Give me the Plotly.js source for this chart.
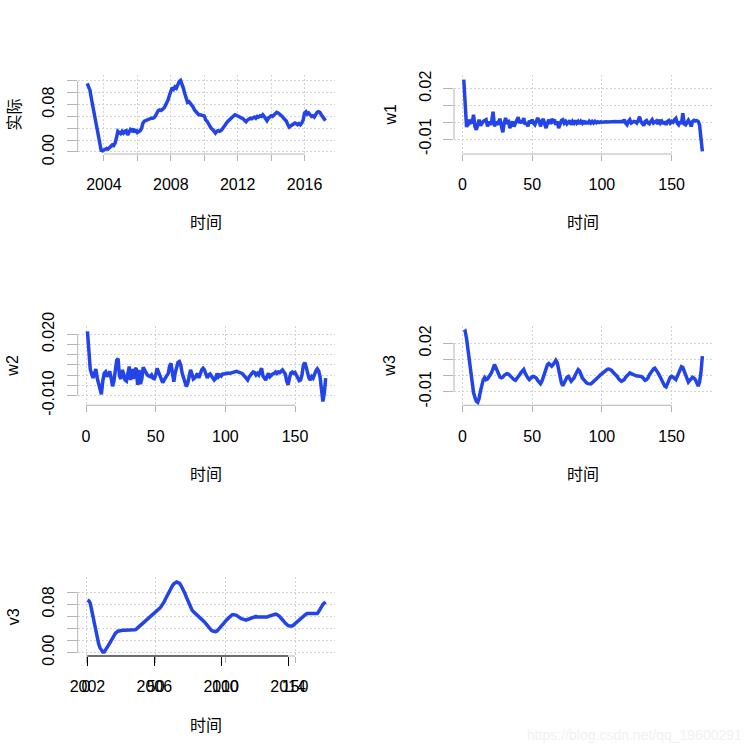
<!DOCTYPE html>
<html>
<head>
<meta charset="utf-8">
<script src="https://cdn.plot.ly/plotly-3.0.1.min.js"></script>
<style>html,body{margin:0;padding:0;background:#fff;}#chart{width:753px;height:753px;}</style>
</head>
<body>
<div id="chart"></div>
<script>
// ---- data ----
const startYear = 2003;   // monthly series (ts start 2003, frequency 12)
const frequency = 12;
const actual = [
  0.116,0.110,0.104,0.090,0.077,0.065,0.053,0.040,0.025,0.013,0.003,0.002,
  0.003,0.005,0.006,0.005,0.008,0.011,0.012,0.011,0.015,0.024,0.035,0.033,
  0.031,0.035,0.032,0.035,0.036,0.029,0.035,0.038,0.036,0.039,0.033,0.038,
  0.033,0.035,0.036,0.040,0.049,0.052,0.053,0.054,0.056,0.056,0.057,0.057,
  0.058,0.061,0.066,0.070,0.071,0.070,0.072,0.074,0.078,0.082,0.088,0.096,
  0.102,0.109,0.106,0.110,0.108,0.115,0.119,0.121,0.116,0.108,0.099,0.089,
  0.084,0.085,0.082,0.080,0.076,0.071,0.068,0.066,0.063,0.063,0.062,0.062,
  0.061,0.054,0.052,0.048,0.043,0.040,0.038,0.035,0.032,0.035,0.036,0.035,
  0.036,0.039,0.043,0.046,0.049,0.052,0.054,0.057,0.059,0.061,0.063,0.062,
  0.061,0.060,0.059,0.057,0.056,0.053,0.051,0.054,0.056,0.057,0.056,0.058,
  0.059,0.057,0.060,0.059,0.061,0.060,0.063,0.060,0.056,0.053,0.057,0.059,
  0.061,0.060,0.063,0.064,0.067,0.066,0.064,0.063,0.060,0.057,0.054,0.052,
  0.046,0.042,0.044,0.046,0.047,0.049,0.048,0.046,0.048,0.046,0.049,0.054,
  0.066,0.068,0.064,0.066,0.063,0.060,0.061,0.059,0.063,0.067,0.068,0.067,
  0.063,0.060,0.057,0.053
];
const w1 = [
  0.0253,0.0080,-0.0030,0.0015,-0.0005,0.0005,-0.0008,0.0045,-0.0025,-0.0045,-0.0015,0.0015,
  -0.0020,-0.0005,0.0005,0.0010,0.0015,-0.0025,0.0005,-0.0015,0.0005,0.0063,-0.0025,0.0005,
  -0.0015,0.0005,0.0020,-0.0025,-0.0060,-0.0005,0.0025,-0.0010,0.0015,-0.0035,-0.0010,0.0005,
  -0.0025,-0.0005,0.0020,0.0030,-0.0005,0.0010,-0.0005,0.0025,-0.0015,0.0000,-0.0025,0.0010,
  -0.0005,0.0015,-0.0005,-0.0015,0.0005,0.0025,0.0010,-0.0025,0.0005,0.0020,-0.0010,-0.0035,
  -0.0005,0.0015,-0.0010,0.0020,0.0005,0.0015,-0.0015,0.0005,-0.0035,-0.0005,0.0010,0.0015,
  -0.0005,0.0005,-0.0010,0.0000,0.0010,-0.0015,0.0005,-0.0005,0.0010,-0.0005,0.0005,-0.0010,
  0.0005,-0.0005,0.0010,-0.0010,0.0005,-0.0010,0.0005,-0.0005,0.0005,-0.0005,0.0005,-0.0003,
  0.0003,-0.0002,0.0002,0.0000,0.0002,0.0001,0.0003,0.0002,0.0003,0.0004,0.0003,0.0004,
  0.0003,0.0004,0.0003,0.0005,0.0003,0.0004,0.0003,0.0015,-0.0005,-0.0015,0.0005,0.0015,
  -0.0005,0.0000,0.0005,0.0002,-0.0005,0.0010,0.0033,0.0005,-0.0010,-0.0020,0.0005,0.0010,
  -0.0005,-0.0010,0.0005,0.0015,-0.0005,0.0003,0.0008,-0.0010,0.0015,-0.0005,0.0005,-0.0010,
  0.0005,-0.0015,0.0005,0.0010,-0.0005,0.0005,0.0000,0.0015,0.0023,-0.0005,-0.0015,0.0005,
  -0.0010,0.0053,-0.0010,-0.0015,0.0005,0.0012,-0.0003,-0.0025,0.0005,0.0012,0.0008,0.0010,
  0.0005,-0.0015,-0.0095,-0.0173
];
const w2 = [
  0.0215,0.0120,0.0030,0.0005,-0.0015,0.0008,0.0030,-0.0015,-0.0045,-0.0075,-0.0095,-0.0030,
  0.0008,0.0015,-0.0008,0.0005,0.0018,-0.0015,-0.0055,-0.0030,0.0020,0.0072,0.0080,-0.0005,
  -0.0020,0.0025,0.0005,-0.0025,-0.0030,0.0000,0.0042,-0.0025,0.0030,-0.0020,0.0025,0.0035,
  -0.0048,0.0025,-0.0045,-0.0020,0.0038,0.0025,0.0008,0.0000,-0.0005,-0.0008,0.0000,-0.0015,
  -0.0018,0.0000,0.0033,0.0016,0.0000,-0.0025,-0.0038,-0.0025,-0.0015,0.0000,0.0008,0.0045,
  0.0057,0.0010,-0.0033,0.0010,0.0040,0.0062,0.0066,0.0048,0.0008,-0.0015,-0.0045,-0.0057,
  -0.0040,0.0000,0.0025,0.0005,-0.0020,-0.0015,-0.0005,0.0008,-0.0015,0.0008,0.0025,0.0033,
  0.0025,0.0005,-0.0015,0.0000,0.0005,-0.0005,-0.0015,-0.0025,-0.0018,0.0008,-0.0008,0.0000,
  -0.0005,0.0005,0.0005,0.0008,0.0008,0.0010,0.0008,0.0010,0.0015,0.0018,0.0020,0.0018,
  0.0015,0.0012,0.0010,0.0008,0.0000,-0.0008,-0.0020,-0.0025,-0.0010,0.0003,0.0008,0.0015,
  0.0012,0.0000,0.0008,0.0000,0.0015,0.0033,-0.0005,-0.0020,-0.0025,-0.0005,0.0008,-0.0008,
  0.0000,0.0005,0.0008,0.0015,0.0008,0.0015,0.0012,0.0020,0.0025,0.0015,0.0005,-0.0030,
  -0.0049,-0.0015,0.0010,0.0015,0.0008,0.0012,0.0000,-0.0020,-0.0028,-0.0025,0.0000,0.0049,
  0.0061,0.0040,0.0000,-0.0015,-0.0025,-0.0008,-0.0015,0.0010,0.0020,0.0030,0.0020,-0.0010,
  -0.0070,-0.0130,-0.0090,-0.0015
];
const w3 = [
  0.0269,0.0275,0.0230,0.0160,0.0080,0.0006,-0.0050,-0.0105,-0.0135,-0.0159,-0.0166,-0.0140,
  -0.0095,-0.0055,-0.0025,-0.0012,-0.0025,-0.0020,-0.0010,0.0005,0.0020,0.0045,0.0068,0.0050,
  0.0025,0.0003,-0.0010,-0.0014,-0.0010,0.0002,0.0010,0.0012,0.0010,0.0000,-0.0010,-0.0015,
  -0.0025,-0.0029,-0.0020,-0.0008,0.0005,0.0018,0.0032,0.0037,0.0015,-0.0005,-0.0015,-0.0025,
  -0.0015,-0.0008,-0.0005,-0.0010,-0.0015,-0.0030,-0.0042,-0.0050,-0.0035,-0.0005,0.0025,0.0045,
  0.0068,0.0075,0.0065,0.0058,0.0068,0.0080,0.0095,0.0080,0.0035,-0.0015,-0.0045,-0.0062,
  -0.0045,-0.0025,-0.0010,-0.0005,-0.0020,-0.0035,-0.0025,-0.0015,0.0005,0.0025,0.0037,0.0028,
  0.0005,-0.0015,-0.0025,-0.0038,-0.0045,-0.0050,-0.0052,-0.0052,-0.0045,-0.0038,-0.0030,-0.0025,
  -0.0018,-0.0005,0.0005,0.0012,0.0020,0.0030,0.0037,0.0040,0.0041,0.0038,0.0032,0.0020,
  0.0012,0.0000,-0.0005,-0.0020,-0.0030,-0.0035,-0.0030,-0.0025,-0.0010,0.0000,0.0012,0.0017,
  0.0012,0.0008,0.0000,-0.0003,-0.0003,-0.0003,-0.0003,-0.0005,-0.0010,-0.0018,-0.0029,-0.0025,
  -0.0015,0.0005,0.0020,0.0035,0.0041,0.0045,0.0035,0.0020,0.0005,-0.0015,-0.0035,-0.0055,
  -0.0065,-0.0070,-0.0055,-0.0030,-0.0010,-0.0005,-0.0010,-0.0020,-0.0025,-0.0005,0.0020,0.0040,
  0.0055,0.0050,0.0025,0.0000,-0.0020,-0.0040,-0.0030,-0.0015,-0.0010,-0.0015,-0.0025,-0.0045,
  -0.0065,-0.0040,0.0020,0.0120
];
const v3 = [
  0.087,0.086,0.082,0.071,0.057,0.045,0.034,0.025,0.015,0.008,0.003,0.001,
  0.001,0.004,0.008,0.012,0.016,0.021,0.025,0.028,0.032,0.034,0.036,0.036,
  0.037,0.037,0.037,0.037,0.037,0.037,0.037,0.037,0.037,0.038,0.038,0.039,
  0.041,0.043,0.045,0.047,0.049,0.051,0.054,0.056,0.058,0.060,0.062,0.064,
  0.066,0.067,0.069,0.071,0.074,0.077,0.080,0.084,0.089,0.094,0.099,0.104,
  0.108,0.111,0.114,0.116,0.117,0.116,0.115,0.112,0.108,0.104,0.098,0.092,
  0.086,0.081,0.075,0.071,0.068,0.066,0.063,0.061,0.060,0.058,0.056,0.054,
  0.051,0.048,0.045,0.042,0.039,0.037,0.036,0.035,0.035,0.036,0.038,0.041,
  0.044,0.046,0.049,0.052,0.055,0.057,0.059,0.061,0.063,0.063,0.063,0.062,
  0.060,0.058,0.057,0.056,0.055,0.054,0.054,0.055,0.056,0.057,0.058,0.059,
  0.060,0.060,0.059,0.059,0.059,0.058,0.058,0.058,0.058,0.059,0.060,0.061,
  0.062,0.063,0.064,0.064,0.063,0.062,0.060,0.057,0.055,0.052,0.049,0.046,
  0.045,0.044,0.044,0.044,0.046,0.048,0.050,0.052,0.055,0.057,0.059,0.061,
  0.063,0.064,0.065,0.065,0.065,0.065,0.065,0.065,0.065,0.065,0.068,0.072,
  0.077,0.080,0.082,0.084
];

// tick labels
const yearTicks = [2004, 2006, 2008, 2010, 2012, 2014, 2016];
const yearText  = ['2004', '', '2008', '', '2012', '', '2016'];
const indexTicks = [0, 50, 100, 150];
const indexText  = ['0', '50', '100', '150'];
const v3YearTicks = [1, 49, 97, 145];
const v3YearText  = ['2002', '2006', '2010', '2014'];
const actTicks = [0, 0.02, 0.04, 0.06, 0.08, 0.10, 0.12];
const actText  = ['0.00', '', '', '', '0.08', '', ''];
const w1Ticks = [-0.01, 0, 0.01, 0.02];
const w1Text  = ['-0.01', '', '', '0.02'];
const w2Ticks = [-0.010, -0.005, 0, 0.005, 0.010, 0.015, 0.020];
const w2Text  = ['-0.010', '', '', '', '', '', '0.020'];
const w3Ticks = [-0.01, 0, 0.01, 0.02];
const w3Text  = ['-0.01', '', '', '0.02'];
const v3Ticks = [0, 0.02, 0.04, 0.06, 0.08, 0.10];
const v3Text  = ['0.00', '', '', '', '0.08', ''];

const yLabels = ['实际', 'w1', 'w2', 'w3', 'v3'];
const xLabel = '时间';

// ---- build ----
const timeX = actual.map((_, i) => startYear + i / frequency);
const idxX = w1.map((_, i) => i + 1);

const W = 753, H = 753;
const px = v => v / W;
const py = v => 1 - v / H;

const BLUE = '#2344E6';
const GRAY = '#b4b4b4';
const GRID = '#d3d3d3';
const NUMFONT = {family: 'Liberation Sans, Arial, sans-serif', size: 16, color: '#000'};
const CJKFONT = {family: 'Noto Sans CJK SC, sans-serif', size: 16, color: '#000'};

const colX = [[77.7, 335], [454, 711.7]];
const rowY = [[75, 154], [326, 405.3], [576.5, 656]];

function xDomain(c) { return [px(colX[c][0]), px(colX[c][1])]; }
function yDomain(r) { return [py(rowY[r][1]), py(rowY[r][0])]; }

function xAxis(c, anchor, range, tv, tt) {
  return {
    domain: xDomain(c), anchor: anchor, range: range,
    tickmode: 'array', tickvals: tv, ticktext: tt,
    ticks: 'outside', ticklen: 6, tickwidth: 1, tickcolor: GRAY,
    showline: false, zeroline: false,
    showgrid: true, gridcolor: GRID, griddash: '2px,2px', gridwidth: 1,
    tickfont: NUMFONT, ticklabelstandoff: 10, fixedrange: true
  };
}
function yAxis(r, anchor, range, tv, tt) {
  return {
    domain: yDomain(r), anchor: anchor, range: range,
    tickmode: 'array', tickvals: tv, ticktext: tt, tickangle: -90,
    ticks: 'outside', ticklen: 10, tickwidth: 1, tickcolor: GRAY,
    showline: false, zeroline: false,
    showgrid: true, gridcolor: GRID, griddash: '2px,2px', gridwidth: 1,
    tickfont: NUMFONT, ticklabelstandoff: 6, fixedrange: true
  };
}

const idxRange = [-6.0, 178.7];

const lineStyle = {color: BLUE, width: 3.5};
const traces = [
  {x: timeX, y: actual, xaxis: 'x', yaxis: 'y', type: 'scatter', mode: 'lines', line: lineStyle, hoverinfo: 'skip'},
  {x: idxX, y: w1, xaxis: 'x2', yaxis: 'y2', type: 'scatter', mode: 'lines', line: lineStyle, hoverinfo: 'skip'},
  {x: idxX, y: w2, xaxis: 'x3', yaxis: 'y3', type: 'scatter', mode: 'lines', line: lineStyle, hoverinfo: 'skip'},
  {x: idxX, y: w3, xaxis: 'x4', yaxis: 'y4', type: 'scatter', mode: 'lines', line: lineStyle, hoverinfo: 'skip'},
  {x: idxX, y: v3, xaxis: 'x5', yaxis: 'y5', type: 'scatter', mode: 'lines', line: lineStyle, hoverinfo: 'skip'}
];

const layout = {
  width: W, height: H,
  margin: {l: 0, r: 0, t: 0, b: 0},
  paper_bgcolor: '#fff', plot_bgcolor: '#fff',
  showlegend: false,
  xaxis:  xAxis(0, 'y',  [2002.43, 2017.82], yearTicks, yearText),
  yaxis:  yAxis(0, 'x',  [-0.0034, 0.1301], actTicks, actText),
  xaxis2: xAxis(1, 'y2', idxRange, indexTicks, indexText),
  yaxis2: yAxis(0, 'x2', [-0.0189, 0.0281], w1Ticks, w1Text),
  xaxis3: xAxis(0, 'y3', idxRange, indexTicks, indexText),
  yaxis3: yAxis(1, 'x3', [-0.0149, 0.0241], w2Ticks, w2Text),
  xaxis4: xAxis(1, 'y4', idxRange, indexTicks, indexText),
  yaxis4: yAxis(1, 'x4', [-0.0184, 0.0307], w3Ticks, w3Text),
  xaxis5: xAxis(0, 'y5', idxRange, indexTicks, indexText),
  yaxis5: yAxis(2, 'x5', [-0.0055, 0.1262], v3Ticks, v3Text),
  xaxis6: Object.assign(xAxis(0, 'y5', idxRange, v3YearTicks, v3YearText), {
    overlaying: 'x5', showgrid: false, tickcolor: '#000', ticklen: 9, ticklabelstandoff: 7
  }),
  shapes: [],
  annotations: []
};

// axis lines spanning first..last tick (R style)
const axisPairs = [
  ['x', 'y', yearTicks, actTicks],
  ['x2', 'y2', indexTicks, w1Ticks],
  ['x3', 'y3', indexTicks, w2Ticks],
  ['x4', 'y4', indexTicks, w3Ticks],
  ['x5', 'y5', indexTicks, v3Ticks]
];
axisPairs.forEach(([xa, ya, xt, yt]) => {
  layout.shapes.push({type: 'line', xref: xa, yref: ya + ' domain',
    x0: xt[0], x1: xt[xt.length - 1], y0: 0, y1: 0, line: {color: GRAY, width: 1}});
  layout.shapes.push({type: 'line', xref: xa + ' domain', yref: ya,
    x0: 0, x1: 0, y0: yt[0], y1: yt[yt.length - 1], line: {color: GRAY, width: 1}});
});
layout.shapes.push({type: 'line', xref: 'x6', yref: 'y5 domain',
  x0: v3YearTicks[0], x1: v3YearTicks[v3YearTicks.length - 1], y0: 0, y1: 0,
  line: {color: '#000', width: 1}});

// axis titles
const panels = [[0, 0], [1, 0], [0, 1], [1, 1], [0, 2]];
const yTitleX = [13, 390];
const xTitleOffset = 67.5;
panels.forEach(([c, r], k) => {
  const cy = (rowY[r][0] + rowY[r][1]) / 2;
  const cx = (colX[c][0] + colX[c][1]) / 2;
  layout.annotations.push({
    text: yLabels[k], xref: 'paper', yref: 'paper', x: px(yTitleX[c]), y: py(cy),
    xanchor: 'center', yanchor: 'middle', textangle: -90, showarrow: false,
    font: k === 0 ? CJKFONT : NUMFONT
  });
  layout.annotations.push({
    text: xLabel, xref: 'paper', yref: 'paper', x: px(cx), y: py(rowY[r][1] + xTitleOffset),
    xanchor: 'center', yanchor: 'middle', showarrow: false, font: CJKFONT
  });
});
// faint watermark
layout.annotations.push({
  text: 'https://blog.csdn.net/qq_19600291', xref: 'paper', yref: 'paper',
  x: px(744), y: py(735), xanchor: 'right', yanchor: 'middle', showarrow: false,
  font: {family: 'Liberation Sans, Arial, sans-serif', size: 14, color: '#f1f1f1'}
});

Plotly.newPlot('chart', traces, layout, {displayModeBar: false, staticPlot: true});
</script>
</body>
</html>
